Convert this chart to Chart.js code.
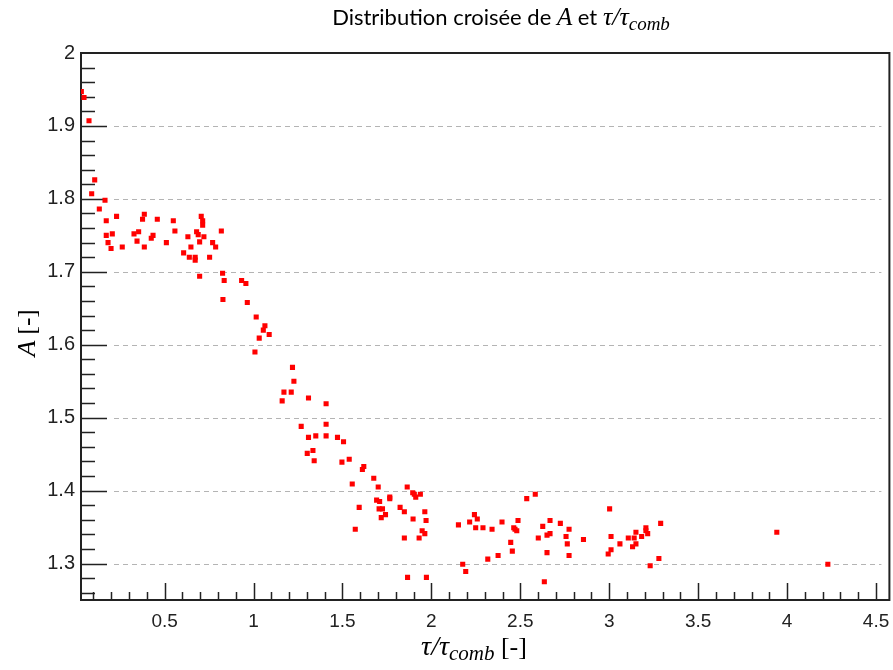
<!DOCTYPE html>
<html>
<head>
<meta charset="utf-8">
<script src="https://cdn.jsdelivr.net/npm/chart.js@4.4.0/dist/chart.umd.min.js"></script>
<style>
    body { margin: 0; background: #fff; }
</style>
</head>
<body>
<canvas id="myChart" width="893" height="670"></canvas>
<script>
// tau / tau_comb values (x) and A values (y)
const tau = [
    0.032, 0.047, 0.075, 0.107, 0.090, 0.165, 0.133, 0.172, 0.230, 0.172,
    0.206, 0.182, 0.199, 0.262, 0.328, 0.354, 0.345, 0.386, 0.376, 0.386,
    0.425, 0.435, 0.459, 0.510, 0.549, 0.558, 0.607, 0.631, 0.639, 0.648,
    0.680, 0.689, 0.672, 0.672, 0.697, 0.706, 0.714, 0.714, 0.721, 0.697,
    0.753, 0.770, 0.787, 0.819, 0.826, 0.835, 0.933, 0.957, 0.828, 0.965,
    1.015, 1.064, 1.055, 1.088, 1.032, 1.008, 1.219, 1.227, 1.171, 1.212,
    1.161, 1.309, 1.408, 1.268, 1.408, 1.309, 1.350, 1.408, 1.472, 1.506,
    1.302, 1.334, 1.341, 1.497, 1.538, 1.620, 1.612, 1.676, 1.555, 1.701,
    1.864, 1.895, 1.904, 1.938, 1.912, 1.766, 1.766, 1.692, 1.709, 1.594,
    1.824, 1.848, 1.706, 1.725, 1.742, 1.718, 1.963, 1.970, 1.897, 1.572,
    1.948, 1.963, 1.848, 1.931, 2.152, 1.866, 1.972, 2.215, 2.176, 2.193,
    2.242, 2.258, 2.249, 2.290, 2.317, 2.341, 2.375, 2.397, 2.446, 2.455,
    2.463, 2.470, 2.480, 2.487, 2.536, 2.584, 2.601, 2.626, 2.635, 2.650,
    2.650, 2.667, 2.667, 2.725, 2.757, 2.764, 2.774, 2.774, 2.855, 3.002,
    3.010, 3.010, 2.994, 3.060, 3.107, 3.140, 3.131, 3.150, 3.150, 3.182,
    3.206, 3.206, 3.216, 3.230, 3.279, 3.289, 3.942, 4.229
];
const aVals = [
    1.947, 1.939, 1.907, 1.826, 1.807, 1.798, 1.786, 1.770, 1.776, 1.750,
    1.752, 1.740, 1.732, 1.734, 1.752, 1.755, 1.742, 1.779, 1.772, 1.734,
    1.746, 1.750, 1.772, 1.740, 1.770, 1.756, 1.726, 1.748, 1.720, 1.734,
    1.755, 1.751, 1.720, 1.716, 1.741, 1.776, 1.770, 1.764, 1.748, 1.694,
    1.720, 1.740, 1.734, 1.756, 1.698, 1.688, 1.688, 1.684, 1.662, 1.658,
    1.638, 1.626, 1.620, 1.614, 1.609, 1.590, 1.569, 1.550, 1.535, 1.535,
    1.523, 1.527, 1.519, 1.488, 1.491, 1.473, 1.475, 1.475, 1.473, 1.467,
    1.451, 1.455, 1.441, 1.439, 1.443, 1.433, 1.429, 1.417, 1.409, 1.405,
    1.405, 1.397, 1.395, 1.395, 1.391, 1.391, 1.389, 1.387, 1.385, 1.377,
    1.377, 1.371, 1.375, 1.375, 1.367, 1.363, 1.371, 1.359, 1.361, 1.347,
    1.345, 1.341, 1.335, 1.335, 1.353, 1.281, 1.281, 1.357, 1.299, 1.289,
    1.367, 1.361, 1.349, 1.349, 1.306, 1.347, 1.311, 1.357, 1.329, 1.317,
    1.349, 1.347, 1.345, 1.359, 1.389, 1.395, 1.335, 1.351, 1.275, 1.339,
    1.315, 1.359, 1.341, 1.355, 1.337, 1.327, 1.347, 1.311, 1.333, 1.375,
    1.337, 1.319, 1.313, 1.327, 1.335, 1.335, 1.323, 1.343, 1.327, 1.337,
    1.349, 1.345, 1.341, 1.297, 1.307, 1.355, 1.343, 1.299
];

const xTicks = [0.5, 1, 1.5, 2, 2.5, 3, 3.5, 4, 4.5];
const yTicks = [1.3, 1.4, 1.5, 1.6, 1.7, 1.8, 1.9, 2];
const xRange = [0.03, 4.575];
const yRange = [1.25, 2.0];

const points = tau.map((t, i) => ({ x: t, y: aVals[i] }));

const serif = '"Liberation Serif", "DejaVu Serif", serif';
const sans = 'Lato, "Open Sans", sans-serif';

// draws a list of text pieces in a row, centred on cx
const drawPieces = (ctx, pieces, cx, baseY) => {
    let total = 0;
    pieces.forEach((p) => {
        ctx.font = p.font;
        p.w = ctx.measureText(p.t).width;
        total += p.w;
    });
    let x = cx - total / 2;
    ctx.textAlign = 'left';
    ctx.textBaseline = 'alphabetic';
    pieces.forEach((p) => {
        ctx.font = p.font;
        ctx.fillText(p.t, x, baseY + (p.dy || 0));
        x += p.w;
    });
}

const framePlugin = {
    id: 'frame',
    beforeDatasetsDraw(chart) {
        const { ctx, chartArea: a, scales } = chart;
        const xs = scales.x, ys = scales.y;
        ctx.save();

        // dashed grid lines
        ctx.strokeStyle = '#b4b4b4';
        ctx.lineWidth = 1;
        ctx.setLineDash([5, 4]);
        yTicks.forEach((v) => {
            if (v >= yRange[1]) return;
            const py = Math.round(ys.getPixelForValue(v)) + 0.5;
            ctx.beginPath();
            ctx.moveTo(a.left + 33, py);
            ctx.lineTo(a.right - 8, py);
            ctx.stroke();
        });
        ctx.setLineDash([]);

        // frame
        ctx.strokeStyle = '#222';
        ctx.lineWidth = 2;
        ctx.strokeRect(a.left, a.top, a.right - a.left, a.bottom - a.top);

        // inward ticks
        ctx.lineWidth = 1.5;
        ctx.beginPath();
        for (let k = 63; k <= 100; k++) {
            const v = k / 50;
            if (v <= yRange[0] || v >= yRange[1]) continue;
            const major = k % 5 === 0;
            const py = Math.round(ys.getPixelForValue(v)) + 0.5;
            ctx.moveTo(a.left, py);
            ctx.lineTo(a.left + (major ? 26 : 14), py);
        }
        for (let k = 1; k <= 45; k++) {
            const v = k / 10;
            if (v <= xRange[0] || v >= xRange[1]) continue;
            const major = k % 5 === 0;
            const px = Math.round(xs.getPixelForValue(v)) + 0.5;
            ctx.moveTo(px, a.bottom);
            ctx.lineTo(px, a.bottom - (major ? 17 : 8));
        }
        ctx.stroke();
        ctx.restore();
    },
    afterDraw(chart) {
        const { ctx } = chart;
        ctx.save();
        ctx.fillStyle = '#000';

        drawPieces(ctx, [
            { t: 'Distribution croisée de ', font: '22px ' + sans },
            { t: 'A', font: 'italic 25px ' + serif },
            { t: ' et ', font: '22px ' + sans },
            { t: 'τ/τ', font: 'italic 26px ' + serif },
            { t: 'comb', font: 'italic 19px ' + serif, dy: 5 }
        ], 501, 25);

        drawPieces(ctx, [
            { t: 'τ/τ', font: 'italic 28px ' + serif },
            { t: 'comb', font: 'italic 21px ' + serif, dy: 5 },
            { t: ' [-]', font: '26px ' + serif }
        ], 474, 655);

        ctx.translate(35, 333);
        ctx.rotate(-Math.PI / 2);
        drawPieces(ctx, [
            { t: 'A', font: 'italic 26px ' + serif },
            { t: ' [-]', font: '25px ' + serif }
        ], 0, 0);
        ctx.restore();
    }
};

const data = {
    datasets: [{
        label: 'A vs tau/tau_comb',
        data: points,
        backgroundColor: '#ff0000',
        borderWidth: 0,
        pointStyle: 'rect',
        pointRadius: 3.6,
        pointHoverRadius: 3.6
    }]
};

const config = {
    type: 'scatter',
    data: data,
    options: {
        responsive: false,
        animation: false,
        devicePixelRatio: 1,
        layout: { padding: { top: 53, right: 3, bottom: 0, left: 0 } },
        plugins: {
            legend: { display: false },
            title: { display: false },
            tooltip: { enabled: false }
        },
        scales: {
            x: {
                type: 'linear',
                min: xRange[0],
                max: xRange[1],
                afterBuildTicks: (s) => { s.ticks = xTicks.map((v) => ({ value: v })); },
                afterFit: (s) => { s.height = 70; s.paddingLeft = 0; s.paddingRight = 0; },
                grid: { display: false, drawTicks: false },
                border: { display: false },
                ticks: {
                    color: '#222',
                    padding: 10,
                    maxRotation: 0,
                    autoSkip: false,
                    font: { family: '"Liberation Sans", Arial, sans-serif', size: 19 },
                    callback: (v) => String(v)
                }
            },
            y: {
                type: 'linear',
                min: yRange[0],
                max: yRange[1],
                afterBuildTicks: (s) => { s.ticks = yTicks.map((v) => ({ value: v })); },
                afterFit: (s) => { s.width = 81; s.paddingTop = 0; s.paddingBottom = 0; },
                grid: { display: false, drawTicks: false },
                border: { display: false },
                ticks: {
                    color: '#222',
                    padding: 6,
                    autoSkip: false,
                    font: { family: '"Liberation Sans", Arial, sans-serif', size: 20 },
                    callback: (v) => String(v)
                }
            }
        }
    },
    plugins: [framePlugin]
};

let myChart = new Chart(document.getElementById('myChart'), config);
</script>
</body>
</html>
